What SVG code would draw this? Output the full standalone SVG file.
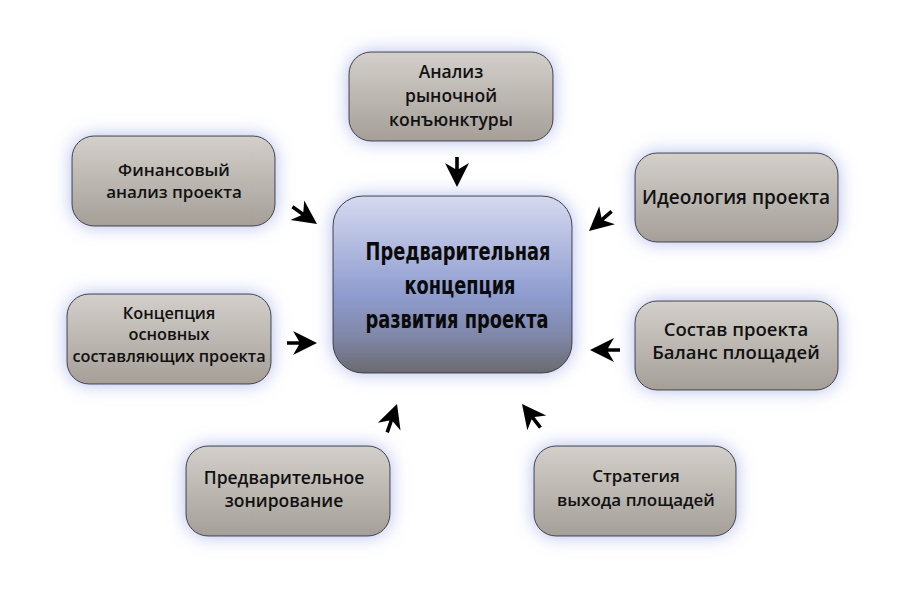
<svg xmlns="http://www.w3.org/2000/svg" width="900" height="600" viewBox="0 0 900 600">
<defs>
<linearGradient id="gGrey" x1="0" y1="0" x2="0" y2="1">
<stop offset="0" stop-color="#d3cfca"/>
<stop offset="1" stop-color="#a59f98"/>
</linearGradient>
<linearGradient id="gCenter" x1="0" y1="0" x2="0" y2="1">
<stop offset="0" stop-color="#d6d9ef"/>
<stop offset="0.55" stop-color="#8f9dd0"/>
<stop offset="0.8" stop-color="#7f86a6"/>
<stop offset="1" stop-color="#6a6a70"/>
</linearGradient>
<filter id="glow" x="-30%" y="-40%" width="160%" height="180%">
<feFlood flood-color="#9aa6e4" flood-opacity="0.75" result="c"/>
<feComposite in="c" in2="SourceAlpha" operator="in" result="s"/>
<feGaussianBlur in="s" stdDeviation="9" result="b"/>
<feMerge><feMergeNode in="b"/><feMergeNode in="SourceGraphic"/></feMerge>
</filter>
<path id="arr" d="M0,0 L-24,-12 L-18,-1.8 L-30,-1.8 L-30,1.8 L-18,1.8 L-24,12 Z" fill="#000"/>
</defs>
<style>
.box{fill:url(#gGrey);stroke:#3c3c3c;stroke-width:1;filter:url(#glow)}
.lbl{font-family:"Open Sans","Noto Sans","DejaVu Sans",sans-serif;font-size:17px;font-weight:600;fill:#111;text-anchor:middle}
.ctr{font-family:"DejaVu Sans Condensed","DejaVu Sans",sans-serif;font-size:24px;font-weight:bold;fill:#0a0a0a;text-anchor:middle}
</style>
<rect width="900" height="600" fill="#fff"/>

<g id="center">
<rect x="333" y="196" width="239" height="177" rx="30" fill="url(#gCenter)" stroke="#3c3c3c" stroke-width="1" filter="url(#glow)"/>
<text class="ctr" x="458" y="260" textLength="185" lengthAdjust="spacingAndGlyphs">Предварительная</text>
<text class="ctr" x="460" y="294" textLength="111" lengthAdjust="spacingAndGlyphs">концепция</text>
<text class="ctr" x="457" y="328" textLength="183" lengthAdjust="spacingAndGlyphs">развития проекта</text>
</g>

<g id="n1">
<rect class="box" x="349" y="52" width="204" height="89" rx="22"/>
<text class="lbl" x="451" y="78" style="font-size:17.5px">Анализ</text>
<text class="lbl" x="451" y="102" style="font-size:17.5px">рыночной</text>
<text class="lbl" x="451" y="126" style="font-size:17.5px">конъюнктуры</text>
</g>
<g id="n2">
<rect class="box" x="72" y="136" width="203" height="90" rx="22"/>
<text class="lbl" x="174" y="176">Финансовый</text>
<text class="lbl" x="174" y="198">анализ проекта</text>
</g>
<g id="n3">
<rect class="box" x="635" y="153" width="203" height="89" rx="22"/>
<text class="lbl" x="736" y="204" style="font-size:19px">Идеология проекта</text>
</g>
<g id="n4">
<rect class="box" x="67" y="294" width="204" height="90" rx="22"/>
<text class="lbl" x="169" y="319" style="font-size:16.3px">Концепция</text>
<text class="lbl" x="169" y="340" style="font-size:16.3px">основных</text>
<text class="lbl" x="169" y="362" style="font-size:16.3px">составляющих проекта</text>
</g>
<g id="n5">
<rect class="box" x="635" y="301" width="203" height="89" rx="22"/>
<text class="lbl" x="736" y="336" style="font-size:18.5px">Состав проекта</text>
<text class="lbl" x="736" y="359" style="font-size:18.5px">Баланс площадей</text>
</g>
<g id="n6">
<rect class="box" x="186" y="446" width="204" height="90" rx="22"/>
<text class="lbl" x="284" y="484" style="font-size:17.5px">Предварительное</text>
<text class="lbl" x="284" y="507" style="font-size:17.5px">зонирование</text>
</g>
<g id="n7">
<rect class="box" x="534" y="446" width="202" height="90" rx="22"/>
<text class="lbl" x="636" y="482">Стратегия</text>
<text class="lbl" x="636" y="506">выхода площадей</text>
</g>

<g id="connectors">
<use href="#arr" transform="translate(457,187) rotate(90)"/>
<use href="#arr" transform="translate(317,224) rotate(35)"/>
<use href="#arr" transform="translate(589,231) rotate(139)"/>
<use href="#arr" transform="translate(317,343)"/>
<use href="#arr" transform="translate(590,350) rotate(180)"/>
<use href="#arr" transform="translate(397,404) rotate(-71)"/>
<use href="#arr" transform="translate(522,404) rotate(-128)"/>
</g>
</svg>
